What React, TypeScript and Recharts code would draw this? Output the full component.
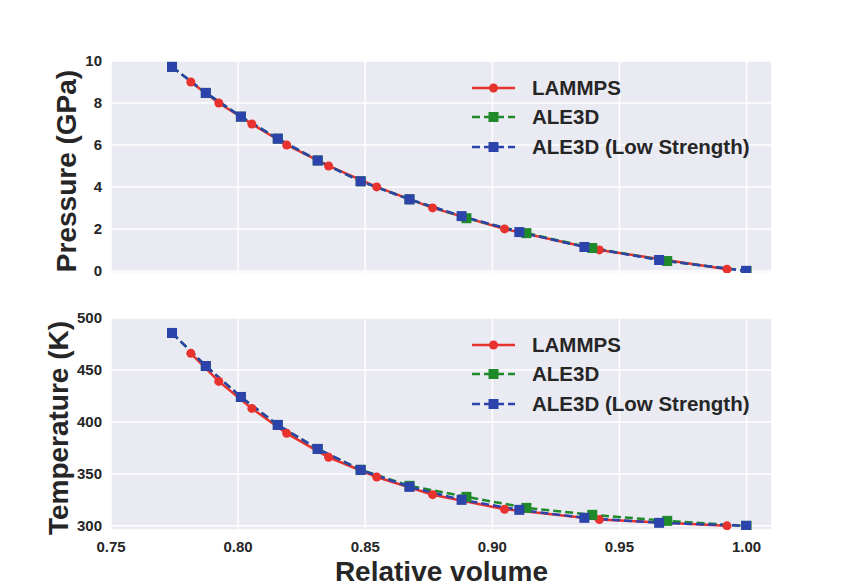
import React from 'react';
import { LineChart, Line, XAxis, YAxis, CartesianGrid, Legend } from 'recharts';

// relative volume (x) for each run
const volumeLammps = [0.7814, 0.7924, 0.8054, 0.8191, 0.8356, 0.8545, 0.8765, 0.9048, 0.9421, 0.9923];
const volumeAle = [0.774, 0.7873, 0.8011, 0.8156, 0.8313, 0.8482, 0.8674, 0.8898, 0.9134, 0.9393, 0.9688, 1.0];
const volumeAleLow = [0.774, 0.7873, 0.8011, 0.8156, 0.8313, 0.8482, 0.8674, 0.8879, 0.9106, 0.9362, 0.9656, 0.9998];

// pressure (GPa)
const pressureLammps = [9, 8, 7, 6, 5, 4, 3, 2, 1, 0.08];
const pressureAle = [9.72, 8.48, 7.35, 6.3, 5.26, 4.27, 3.41, 2.51, 1.8, 1.09, 0.47, 0];
const pressureAleLow = [9.72, 8.48, 7.35, 6.3, 5.26, 4.27, 3.41, 2.61, 1.85, 1.14, 0.52, 0];

// temperature (K)
const tempLammps = [466, 439, 413, 389, 366, 347, 330, 316, 306, 300];
const tempAle = [485.6, 453.8, 424, 397.1, 374, 354, 338.5, 327.9, 317.3, 310.6, 304.8, 300];
const tempAleLow = [485.6, 453.8, 424, 397.1, 374, 353.8, 337.5, 325, 315.4, 307.7, 302.9, 300];

const xTicks = [0.75, 0.8, 0.85, 0.9, 0.95, 1.0];
const pressureTicks = [0, 2, 4, 6, 8, 10];
const tempTicks = [300, 350, 400, 450, 500];

const RED = '#E8322E';
const GREEN = '#1F8A2A';
const BLUE = '#2B43AA';
const BG = '#EAEAF2';
const FONT = '"Liberation Sans", Arial, sans-serif';
const TEXT = '#262626';

const series = [
  { name: 'LAMMPS', color: RED, dash: undefined as string | undefined, marker: 'circle' },
  { name: 'ALE3D', color: GREEN, dash: '8 4', marker: 'square' },
  { name: 'ALE3D (Low Strength)', color: BLUE, dash: '8 4', marker: 'square' },
];

const zip = (xs: number[], ys: number[]) => xs.map((v, i) => ({ v, y: ys[i] }));

const makeDot = (color: string, marker: string) => (props: any) => {
  const { cx, cy, index } = props;
  if (cx == null || cy == null) return <g key={`d-${index}`} />;
  if (marker === 'circle') {
    return <circle key={`d-${index}`} cx={cx} cy={cy} r={4.5} fill={color} />;
  }
  return <rect key={`d-${index}`} x={cx - 5} y={cy - 5} width={10} height={10} fill={color} />;
};

const LegendBox = () => (
  <div style={{ fontFamily: FONT, fontSize: 20.5, fontWeight: 'bold', color: TEXT }}>
    {series.map((s) => (
      <div key={s.name} style={{ display: 'flex', alignItems: 'center', height: 29.5 }}>
        <svg width={60} height={20}>
          <line x1={0} y1={10} x2={43} y2={10} stroke={s.color} strokeWidth={2.5} strokeDasharray={s.dash} />
          {s.marker === 'circle' ? (
            <circle cx={21.5} cy={10} r={4.5} fill={s.color} />
          ) : (
            <rect x={16.5} y={5} width={10} height={10} fill={s.color} />
          )}
        </svg>
        <span style={{ whiteSpace: 'nowrap' }}>{s.name}</span>
      </div>
    ))}
  </div>
);

const YTitle = ({ text, baseX }: { text: string; baseX: number }) => (props: any) => {
  const vb = props.viewBox;
  const cy = vb.y + vb.height / 2 + 4;
  return (
    <text
      x={baseX}
      y={cy}
      transform={`rotate(-90 ${baseX} ${cy})`}
      textAnchor="middle"
      fontFamily={FONT}
      fontSize={28}
      fontWeight="bold"
      fill={TEXT}
    >
      {text}
    </text>
  );
};

const XTitle = (props: any) => {
  const vb = props.viewBox;
  return (
    <text
      x={vb.x + vb.width / 2}
      y={vb.y + 51}
      textAnchor="middle"
      fontFamily={FONT}
      fontSize={28}
      fontWeight="bold"
      fill={TEXT}
    >
      Relative volume
    </text>
  );
};

const tickStyle = { fontFamily: FONT, fontSize: 15, fontWeight: 'bold', fill: TEXT };

function Panel({
  height,
  margin,
  domain,
  ticks,
  data,
  showX,
  title,
  titleX,
  legendTop,
}: {
  height: number;
  margin: { top: number; right: number; bottom: number; left: number };
  domain: [number, number];
  ticks: number[];
  data: { v: number; y: number }[][];
  showX: boolean;
  title: string;
  titleX: number;
  legendTop: number;
}) {
  return (
    <LineChart width={854} height={height} margin={margin}>
      <CartesianGrid fill={BG} stroke="#ffffff" strokeWidth={1.5} />
      <XAxis
        type="number"
        dataKey="v"
        domain={[0.75, 1.01]}
        ticks={xTicks}
        allowDataOverflow
        hide={!showX}
        height={showX ? 58 : 0}
        axisLine={false}
        tickLine={false}
        tickSize={0}
        tickMargin={11}
        tick={tickStyle}
        tickFormatter={(t: number) => t.toFixed(2)}
        label={showX ? <XTitle /> : undefined}
      />
      <YAxis
        type="number"
        dataKey="y"
        domain={domain}
        ticks={ticks}
        allowDataOverflow
        width={111}
        axisLine={false}
        tickLine={false}
        tickSize={0}
        tickMargin={9}
        tick={tickStyle}
        label={YTitle({ text: title, baseX: titleX })}
      />
      {series.map((s, i) => (
        <Line
          key={s.name}
          name={s.name}
          data={data[i]}
          dataKey="y"
          type="linear"
          stroke={s.color}
          strokeWidth={2.5}
          strokeDasharray={s.dash}
          dot={makeDot(s.color, s.marker)}
          activeDot={false}
          isAnimationActive={false}
        />
      ))}
      <Legend
        layout="vertical"
        align="center"
        verticalAlign="middle"
        content={() => <LegendBox />}
        wrapperStyle={{ top: legendTop, left: 472, width: 300 }}
      />
    </LineChart>
  );
}

export default function App() {
  return (
    <div style={{ position: 'absolute', left: 0, top: 0, width: 854, height: 588, background: '#fff' }}>
      <div style={{ position: 'absolute', left: 0, top: 0 }}>
        <Panel
          height={300}
          margin={{ top: 61, right: 82, bottom: 27, left: 0 }}
          domain={[-0.1, 10]}
          ticks={pressureTicks}
          data={[zip(volumeLammps, pressureLammps), zip(volumeAle, pressureAle), zip(volumeAleLow, pressureAleLow)]}
          showX={false}
          title="Pressure (GPa)"
          titleX={76}
          legendTop={73}
        />
      </div>
      <div style={{ position: 'absolute', left: 0, top: 300 }}>
        <Panel
          height={288}
          margin={{ top: 18, right: 82, bottom: 0, left: 0 }}
          domain={[296, 500]}
          ticks={tempTicks}
          data={[zip(volumeLammps, tempLammps), zip(volumeAle, tempAle), zip(volumeAleLow, tempAleLow)]}
          showX={true}
          title="Temperature (K)"
          titleX={68}
          legendTop={30}
        />
      </div>
    </div>
  );
}
